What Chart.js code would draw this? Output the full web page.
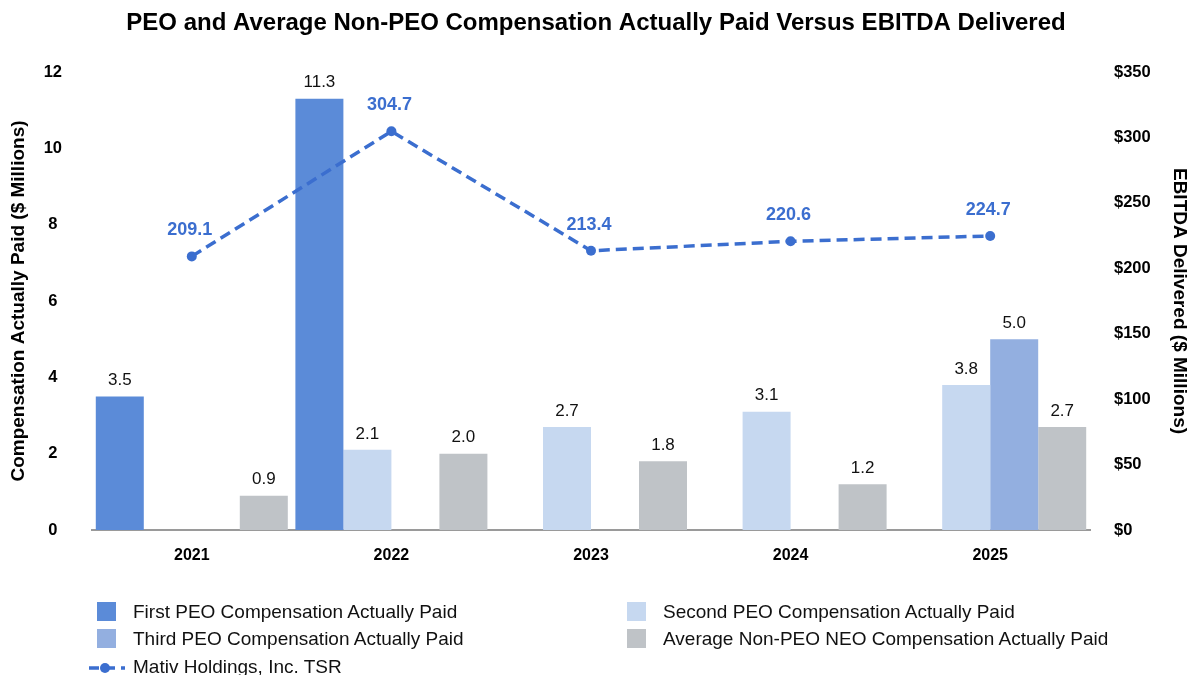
<!DOCTYPE html>
<html>
<head>
<meta charset="utf-8">
<script src="https://cdn.jsdelivr.net/npm/chart.js@4.4.1/dist/chart.umd.min.js"></script>
<style>
  body { margin: 0; background: #fff; font-family: "Liberation Sans", Arial, sans-serif; }
  #wrap { position: relative; width: 1192px; height: 675px; overflow: hidden; }
  .lg { position: absolute; font-size: 19px; color: #111; white-space: nowrap; line-height: 22px; }
  .sw { position: absolute; width: 19px; height: 19px; }
</style>
</head>
<body>
<div id="wrap">
  <canvas id="myChart" width="1192" height="675"></canvas>

  <div class="sw" style="left:97px;top:602px;background:#5b8bd8"></div>
  <div class="lg" style="left:133px;top:601px">First PEO Compensation Actually Paid</div>
  <div class="sw" style="left:97px;top:629px;background:#93afe0"></div>
  <div class="lg" style="left:133px;top:628px">Third PEO Compensation Actually Paid</div>
  <svg style="position:absolute;left:87px;top:658px" width="40" height="20">
    <line x1="2" y1="10" x2="38" y2="10" stroke="#3b6ecf" stroke-width="3.5" stroke-dasharray="10,6"></line>
    <circle cx="18" cy="10" r="5" fill="#3b6ecf"></circle>
  </svg>
  <div class="lg" style="left:133px;top:656px">Mativ Holdings, Inc. TSR</div>

  <div class="sw" style="left:627px;top:602px;background:#c6d8f0"></div>
  <div class="lg" style="left:663px;top:601px">Second PEO Compensation Actually Paid</div>
  <div class="sw" style="left:627px;top:629px;background:#bfc3c7"></div>
  <div class="lg" style="left:663px;top:628px">Average Non-PEO NEO Compensation Actually Paid</div>
</div>

<script>
var years = ["2021", "2022", "2023", "2024", "2025"];
var firstPeo = [3.5, 11.3, null, null, null];
var secondPeo = [null, 2.1, 2.7, 3.1, 3.8];
var thirdPeo = [null, null, null, null, 5.0];
var avgNonPeo = [0.9, 2.0, 1.8, 1.2, 2.7];
var ebitda = [209.1, 304.7, 213.4, 220.6, 224.7];
var leftTicks = [0, 2, 4, 6, 8, 10, 12];
var rightTicks = [0, 50, 100, 150, 200, 250, 300, 350];

var fontFam = '"Liberation Sans", Arial, sans-serif';
var lineBlue = "#3b6ecf";

// value labels above bars and line points
var valueLabels = {
  id: "valueLabels",
  afterDatasetsDraw: function(chart) {
    var ctx = chart.ctx;
    ctx.save();
    ctx.textAlign = "center";
    ctx.textBaseline = "middle";
    chart.data.datasets.forEach(function(ds, i) {
      var meta = chart.getDatasetMeta(i);
      meta.data.forEach(function(el, j) {
        var v = ds.data[j];
        if (v === null) return;
        if (ds.type === "line") {
          ctx.font = "bold 18px " + fontFam;
          ctx.fillStyle = lineBlue;
          ctx.fillText(v.toFixed(1), el.x - 2, el.y - 26);
        } else {
          ctx.font = "17px " + fontFam;
          ctx.fillStyle = "#111";
          ctx.fillText(v.toFixed(1), el.x, el.y - 16);
        }
      });
    });
    ctx.restore();
  }
};

new Chart("myChart", {
  type: "bar",
  data: {
    labels: years,
    datasets: [
      {
        type: "line", label: "Mativ Holdings, Inc. TSR", data: ebitda, yAxisID: "y1",
        borderColor: lineBlue, backgroundColor: lineBlue, borderWidth: 3.5, borderDash: [11, 6],
        pointRadius: 5, pointBorderWidth: 0, pointBackgroundColor: lineBlue, tension: 0, order: 0
      },
      { label: "First PEO Compensation Actually Paid", data: firstPeo, backgroundColor: "#5b8bd8", order: 1 },
      { label: "Second PEO Compensation Actually Paid", data: secondPeo, backgroundColor: "#c6d8f0", order: 1 },
      { label: "Third PEO Compensation Actually Paid", data: thirdPeo, backgroundColor: "#93afe0", order: 1 },
      { label: "Average Non-PEO NEO Compensation Actually Paid", data: avgNonPeo, backgroundColor: "#bfc3c7", order: 1 }
    ]
  },
  options: {
    responsive: false,
    animation: false,
    datasets: { bar: { categoryPercentage: 0.962, barPercentage: 1.0 } },
    layout: { padding: { top: 0, left: 0, right: 0, bottom: 95 } },
    plugins: {
      legend: { display: false },
      tooltip: { enabled: false },
      title: {
        display: true,
        text: "PEO and Average Non-PEO Compensation Actually Paid Versus EBITDA Delivered",
        color: "#000",
        font: { family: fontFam, size: 24, weight: "bold" },
        padding: { top: 9, bottom: 34.2 }
      }
    },
    scales: {
      x: {
        grid: { display: false, drawTicks: false },
        border: { display: true, color: "#9a9a9a", width: 2 },
        ticks: { color: "#000", font: { family: fontFam, size: 16, weight: "bold" }, padding: 16 },
        afterFit: function(s) { s.height = 50; }
      },
      y: {
        position: "left",
        min: 0, max: 12,
        afterBuildTicks: function(s) { s.ticks = leftTicks.map(function(v) { return { value: v }; }); },
        grid: { display: false, drawTicks: false },
        border: { display: false },
        ticks: { color: "#000", font: { family: fontFam, size: 16.5, weight: "bold" }, crossAlign: "center", padding: 30 },
        title: {
          display: true, text: "Compensation Actually Paid ($ Millions)", color: "#000",
          font: { family: fontFam, size: 19, weight: "bold" }, padding: { top: 7, bottom: 0 }
        },
        afterFit: function(s) { s.width = 92; }
      },
      y1: {
        position: "right",
        min: 0, max: 350,
        afterBuildTicks: function(s) { s.ticks = rightTicks.map(function(v) { return { value: v }; }); },
        grid: { display: false, drawTicks: false },
        border: { display: false },
        ticks: {
          color: "#000", font: { family: fontFam, size: 16.5, weight: "bold" }, crossAlign: "near", padding: 24,
          callback: function(v) { return "$" + v; }
        },
        title: {
          display: true, text: "EBITDA Delivered ($ Millions)", color: "#000",
          font: { family: fontFam, size: 19, weight: "bold" }, padding: { top: 1, bottom: 0 }
        },
        afterFit: function(s) { s.width = 102; }
      }
    }
  },
  plugins: [valueLabels]
});
</script>
</body>
</html>
